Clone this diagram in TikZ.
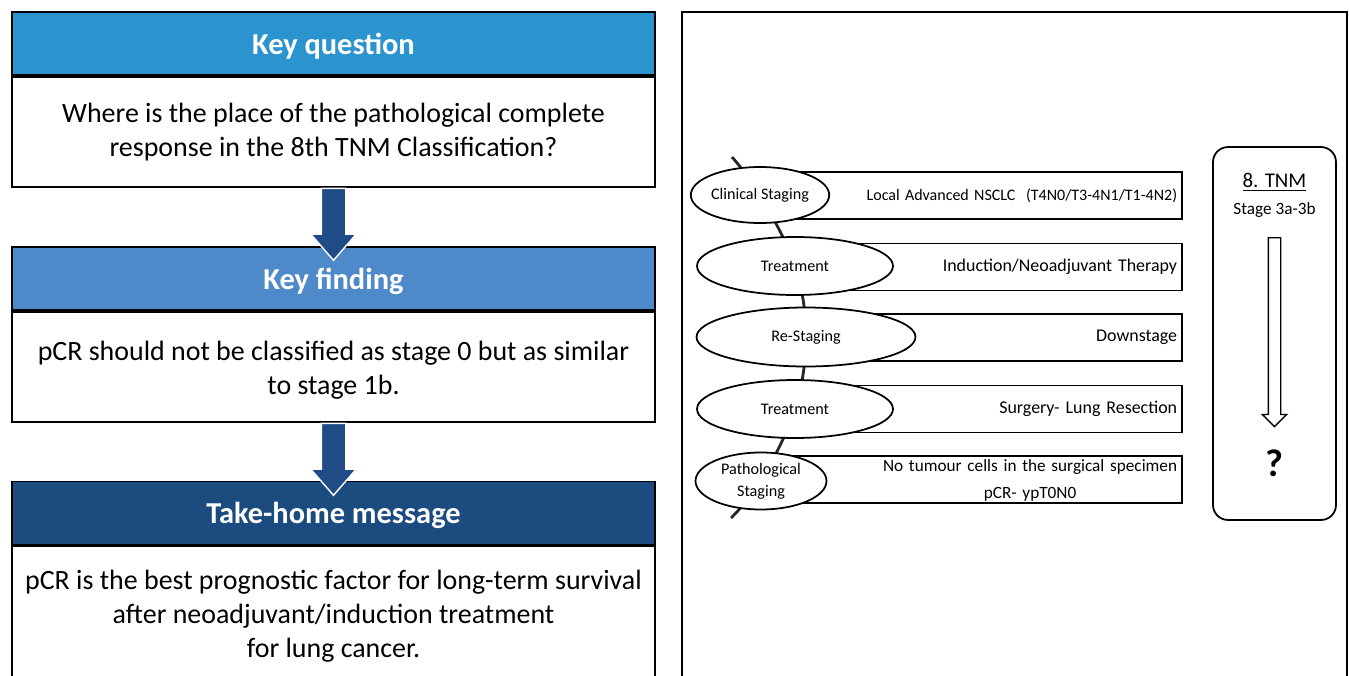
\documentclass[tikz,border=0pt]{standalone}
\usepackage{fontspec}
\setmainfont{Carlito}
\usetikzlibrary{positioning,shapes.geometric,shapes.arrows}
\definecolor{qblue}{HTML}{2B93CD}
\definecolor{fblue}{HTML}{4E89C9}
\definecolor{mblue}{HTML}{1C4B80}
\definecolor{arrblue}{HTML}{1F4C86}
\begin{document}
\begin{tikzpicture}[x=0.02cm, y=-0.02cm]
    \tikzstyle{every node}=[align=center]
    \tikzset{
        khead/.style={draw, line width=1pt, minimum width=12.86cm, minimum height=1.26cm, text=white, text depth=0pt, font=\fontsize{17.3}{21}\selectfont\bfseries},
        kbody/.style={draw, line width=1pt, fill=white, minimum width=12.86cm, minimum height=2.2cm, font=\fontsize{15.9}{19.3}\selectfont},
        bigdown/.style={single arrow, fill=arrblue, draw=white, line width=0.8pt, rotate=-90, inner xsep=0pt, inner ysep=0.23cm, single arrow head extend=0.21cm, single arrow tip angle=82, minimum height=1.44cm},
        hollowdown/.style={single arrow, draw, fill=white, line width=0.8pt, rotate=-90, inner xsep=0pt, inner ysep=0.11cm, single arrow head extend=0.12cm, minimum height=3.78cm},
        stepell/.style={ellipse, draw, fill=white, line width=1pt, inner sep=0pt, font=\fontsize{9.2}{12.5}\selectfont},
        stagebox/.style={draw, fill=white, line width=1pt, anchor=east, minimum width=8.46cm, minimum height=0.94cm, inner xsep=0.1cm, text width=8.26cm, align=right, font=\fontsize{10.2}{15}\selectfont},
        spine/.style={line width=1.6pt, black!85}
        }

    \clip (0,0) rectangle (1349,676);

    %key question
    \node (kqhead) [khead, fill=qblue] at (333.5,43.5) {Key question};
    \node (kqbody) [kbody, below=0pt of kqhead] {Where is the place of the pathological complete\\response in the 8th TNM Classification?};

    %key finding
    \node (kfhead) [khead, fill=fblue] at (333.5,278.5) {Key finding};
    \node (kfbody) [kbody, below=0pt of kfhead] {\rule{0pt}{15.4pt}pCR should not be classified as stage 0 but as similar\\to stage 1b.};

    %take-home message
    \node (thhead) [khead, fill=mblue] at (333.5,513) {Take-home message};
    \node (thbody) [kbody, minimum height=2.8cm, below=0pt of thhead] {pCR is the best prognostic factor for long-term survival\\after neoadjuvant/induction treatment\\for lung cancer.};

    \node (arr1) [bigdown, anchor=tail] at (kqbody.south) {};
    \node (arr2) [bigdown, anchor=tail] at (kfbody.south) {};

    %right panel
    \draw[line width=1pt] (682,12) rectangle (1347,700);

    \coordinate (spinetop) at (732,157);
    \coordinate (c1) at (760,195);
    \coordinate (c2) at (795,266);
    \coordinate (c3) at (806,337);
    \coordinate (c4) at (795,409);
    \coordinate (c5) at (761,481);
    \coordinate (spinebot) at (731,518);
    \draw[spine] plot[smooth, tension=0.6] coordinates {(spinetop) (c1) (c2) (c3) (c4) (c5) (spinebot)};

    %stages
    \node (clinbox) [stagebox, font=\fontsize{9.1}{12}\selectfont] at (1183,195.5) {Local Advanced NSCLC~ (T4N0/T3-4N1/T1-4N2)};
    \node (treatAbox) [stagebox] at (1183,267) {Induction/Neoadjuvant Therapy};
    \node (restagebox) [stagebox] at (1183,337.5) {Downstage};
    \node (treatBbox) [stagebox] at (1183,409) {Surgery- Lung Resection};
    \node (pathobox) [stagebox, font=\fontsize{9.8}{15.3}\selectfont] at (1183,479.5) {\raisebox{-2.5pt}[0pt][0pt]{\begin{tabular}{@{}c@{}}No tumour cells in the surgical specimen\\pCR- ypT0N0\end{tabular}}};

    \node (clin) [stepell, minimum width=2.58cm, minimum height=1.12cm] at (c1) {Clinical Staging};
    \node (treatA) [stepell, minimum width=3.92cm, minimum height=1.16cm] at (c2) {Treatment};
    \node (restage) [stepell, minimum width=4.38cm, minimum height=1.18cm] at (c3) {Re-Staging};
    \node (treatB) [stepell, minimum width=3.92cm, minimum height=1.16cm] at (c4) {Treatment};
    \node (patho) [stepell, minimum width=2.62cm, minimum height=1.14cm] at (c5) {Pathological\\Staging};

    %8. TNM
    \node (tnm) [draw, line width=1pt, rounded corners=0.3cm, minimum width=2.46cm, minimum height=7.46cm] at (1274.5,333.5) {};
    \node (tnmtitle) [font=\fontsize{11.9}{14}\selectfont] at (1274.5,182) {\underline{8. TNM}};
    \node (stage) [font=\fontsize{9.8}{12}\selectfont] at (1274.5,210) {Stage 3a-3b};
    \node (shift) [hollowdown, anchor=tail] at (1274.5,237) {};
    \node (unknown) [font=\fontsize{22}{26}\selectfont\bfseries] at (1274.5,463) {?};
\end{tikzpicture}
\end{document}
